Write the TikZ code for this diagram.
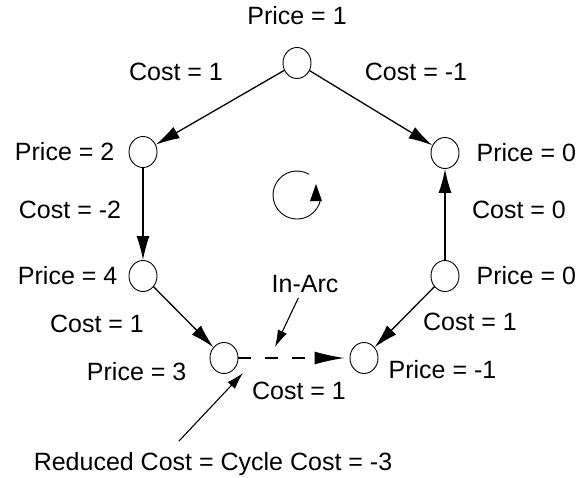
\documentclass[tikz,border=0pt]{standalone}
\usepackage{fontspec}
\setmainfont{Liberation Sans}
\usetikzlibrary{arrows.meta,positioning,shapes.geometric}

\begin{document}
\begin{tikzpicture}[
  x=1pt, y=-1pt, font=\fontsize{25}{30}\selectfont,
  vtx/.style={draw, ellipse, minimum width=28pt, minimum height=31pt, inner sep=0pt, line width=0.9pt},
  lbl/.style={inner sep=2pt},
  edgearr/.style={line width=1.3pt, -{Latex[length=24pt, width=13pt]}},
  inarrow/.style={line width=1.4pt, dash pattern=on 13pt off 14pt, shorten >=5pt, -{Latex[length=30pt, width=13pt]}},
  ptr/.style={line width=1.1pt, -{Latex[length=17pt, width=10pt]}}
]
  \useasboundingbox (0,0) rectangle (581,477);

  % vertices of the cycle
  \node[vtx] (top) at (297,63) {};
  \node[vtx] (pl1) at (143,152) {};
  \node[vtx] (pl2) at (143,276) {};
  \node[vtx] (pbl) at (224,358) {};
  \node[vtx] (pbr) at (364,358) {};
  \node[vtx] (pr2) at (445,276) {};
  \node[vtx] (pr1) at (445,153) {};

  % prices
  \node[lbl, above=20pt of top] (ptop) {Price = 1};
  \node[lbl, left=12pt of pl1] (ppl1) {Price = 2};
  \node[lbl, left=9pt of pl2] (ppl2) {Price = 4};
  \node[lbl, left=21pt of pbl, yshift=-14pt] (ppbl) {Price = 3};
  \node[lbl, right=8pt of pbr, yshift=-12pt] (ppbr) {Price = -1};
  \node[lbl, right=15pt of pr2] (ppr2) {Price = 0};
  \node[lbl, right=15pt of pr1] (ppr1) {Price = 0};

  % costs
  \node[lbl] (c1) at (176,72) {Cost = 1};
  \node[lbl] (c2) at (416,72) {Cost = -1};
  \node[lbl] (c3) at (70,210) {Cost = -2};
  \node[lbl] (c4) at (519,210) {Cost = 0};
  \node[lbl] (c5) at (97,324) {Cost = 1};
  \node[lbl] (c6) at (470,322) {Cost = 1};
  \node[lbl] (c7) at (299,391) {Cost = 1};

  \draw[edgearr] (top) -- (pl1);
  \draw[edgearr] (top) -- (pr1);
  \draw[edgearr] (pl1) -- (pl2);
  \draw[edgearr] (pl2) -- (pbl);
  \draw[edgearr] (pr2) -- (pr1);
  \draw[edgearr] (pr2) -- (pbr);
  \draw[inarrow] (pbl) -- (pbr);

  % annotations
  \node[lbl, inner sep=5pt] (inarc) at (305,284) {In-Arc};
  \coordinate (iatip) at (275,347);
  \draw[ptr] (inarc) -- (iatip);

  \node[lbl, anchor=base] (redc) at (213,470) {Reduced Cost = Cycle Cost = -3};
  \coordinate (rctail) at (179,441);
  \coordinate (rctip) at (243,373);
  \draw[ptr] (rctail) -- (rctip);

  % sense of the cycle
  \coordinate (rot) at (297,195);
  \draw[line width=0.9pt] ([shift={(60:24pt)}]rot) arc[start angle=60, end angle=350, radius=24pt];
  \fill ([shift={(13,6)}]rot) -- ([shift={(25,6)}]rot) -- ([shift={(19,-11)}]rot) -- cycle;
\end{tikzpicture}
\end{document}
